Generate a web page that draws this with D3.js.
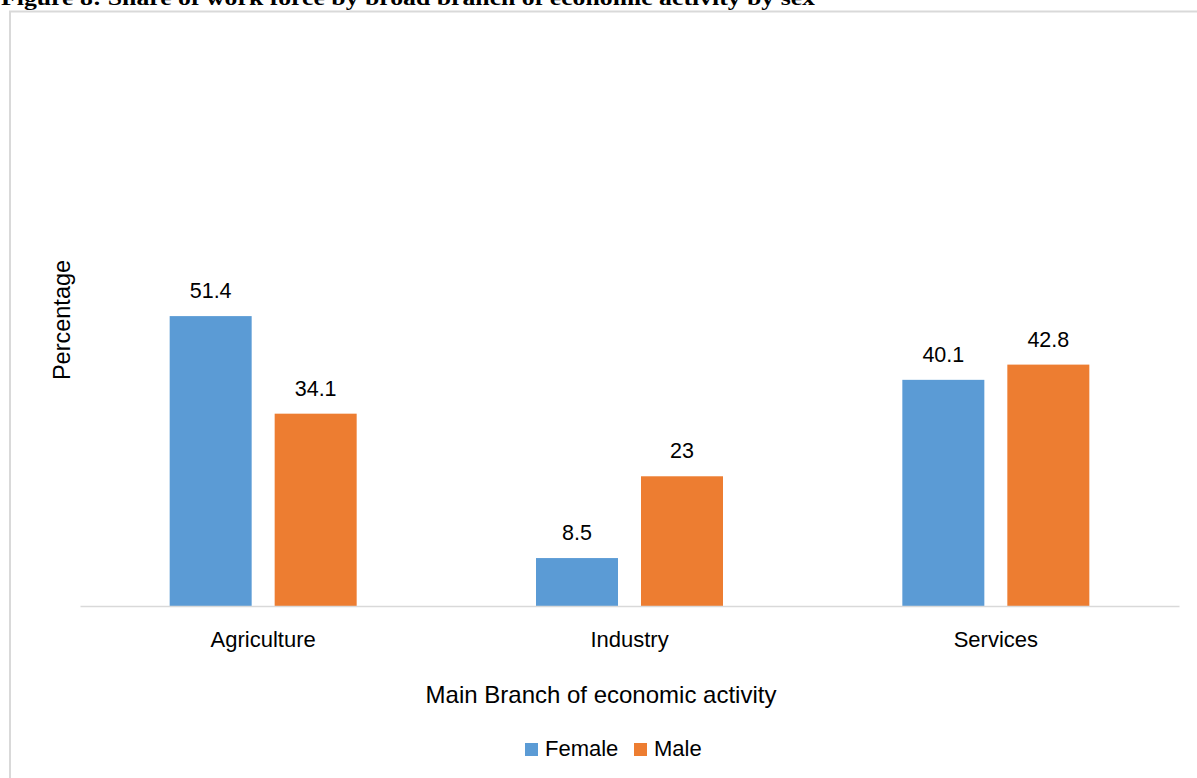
<!DOCTYPE html>
<html>
<head>
<meta charset="utf-8">
<script src="https://cdn.jsdelivr.net/npm/d3@7"></script>
<style>
  html, body { margin: 0; padding: 0; background: #fff; overflow: hidden; }
  svg { display: block; }
</style>
</head>
<body>
<svg id="chart" width="1197" height="778"></svg>
<script>
const categories = ["Agriculture", "Industry", "Services"];
const seriesNames = ["Female", "Male"];
const femaleValues = [51.4, 8.5, 40.1];
const maleValues = [34.1, 23, 42.8];
const valueLabels = [["51.4", "8.5", "40.1"], ["34.1", "23", "42.8"]];
const colors = ["#5B9BD5", "#ED7D31"];
const titleText = "Figure 8: Share of work force by broad branch of economic activity by sex";
const xTitle = "Main Branch of economic activity";
const yTitle = "Percentage";

const seriesValues = [femaleValues, maleValues];
const svg = d3.select("#chart");
const font = "'Liberation Sans', Arial, sans-serif";

// Frame
svg.append("rect")
  .attr("x", 10).attr("y", 11.5)
  .attr("width", 1200).attr("height", 800)
  .attr("fill", "none").attr("stroke", "#d9d9d9").attr("stroke-width", 2);

// Title (clipped at top as in the reference)
svg.append("text")
  .attr("x", 1).attr("y", 5)
  .attr("font-family", "'Liberation Serif', 'DejaVu Serif', serif")
  .attr("font-weight", "bold")
  .attr("font-size", 21)
  .attr("textLength", 814)
  .attr("lengthAdjust", "spacingAndGlyphs")
  .attr("fill", "#000")
  .text(titleText);

const plotLeft = 80, plotRight = 1179, plotBottom = 606, plotTop = 42;

const x0 = d3.scaleBand().domain(categories).range([plotLeft, plotRight]).padding(0);
const x1 = d3.scaleBand().domain(seriesNames).range([0, x0.bandwidth()])
  .paddingInner(0.219).paddingOuter(0.854);
const y = d3.scaleLinear().domain([0, 100]).range([plotBottom, plotTop]);

// Bars
const groups = svg.append("g").selectAll("g")
  .data(categories)
  .join("g")
  .attr("transform", d => `translate(${x0(d)},0)`);

groups.selectAll("rect")
  .data((c, ci) => seriesNames.map((s, si) => ({ s, si, v: seriesValues[si][ci], label: valueLabels[si][ci] })))
  .join("rect")
  .attr("x", d => x1(d.s))
  .attr("width", x1.bandwidth())
  .attr("y", d => y(d.v))
  .attr("height", d => y(0) - y(d.v))
  .attr("fill", d => colors[d.si]);

groups.selectAll("text")
  .data((c, ci) => seriesNames.map((s, si) => ({ s, si, v: seriesValues[si][ci], label: valueLabels[si][ci] })))
  .join("text")
  .attr("x", d => x1(d.s) + x1.bandwidth() / 2)
  .attr("y", d => y(d.v) - 18)
  .attr("text-anchor", "middle")
  .attr("font-family", font)
  .attr("font-size", 21.5)
  .attr("fill", "#000")
  .text(d => d.label);

// X axis
const xAxis = d3.axisBottom(x0).tickSize(0).tickPadding(0);
const gx = svg.append("g").attr("transform", `translate(0,${plotBottom})`).call(xAxis);
gx.select(".domain").attr("stroke", "#d9d9d9").attr("stroke-width", 1.5);
gx.selectAll(".tick text")
  .attr("dy", null)
  .attr("y", 41)
  .attr("font-family", font)
  .attr("font-size", 22)
  .attr("fill", "#000");

// Axis titles
svg.append("text")
  .attr("x", 601).attr("y", 703)
  .attr("text-anchor", "middle")
  .attr("font-family", font)
  .attr("font-size", 24)
  .attr("fill", "#000")
  .text(xTitle);

svg.append("text")
  .attr("transform", "translate(70,320) rotate(-90)")
  .attr("text-anchor", "middle")
  .attr("font-family", font)
  .attr("font-size", 23.5)
  .attr("fill", "#000")
  .text(yTitle);

// Legend
const legendX = [525, 634];
const legend = svg.append("g").selectAll("g")
  .data(seriesNames)
  .join("g")
  .attr("transform", (d, i) => `translate(${legendX[i]},743)`);
legend.append("rect")
  .attr("width", 13).attr("height", 13)
  .attr("fill", (d, i) => colors[i]);
legend.append("text")
  .attr("x", 20).attr("y", 12.5)
  .attr("font-family", font)
  .attr("font-size", 22)
  .attr("fill", "#000")
  .text(d => d);
</script>
</body>
</html>
